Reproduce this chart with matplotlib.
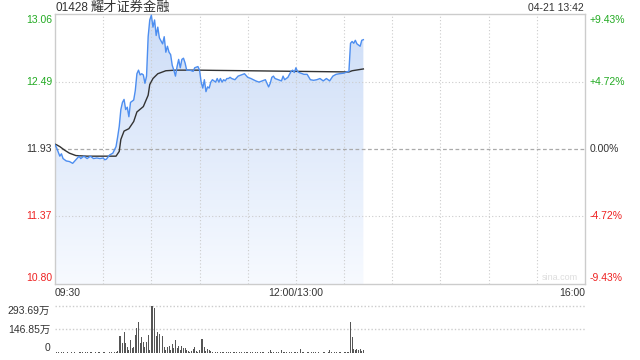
import numpy as np
import matplotlib
matplotlib.use("Agg")
import matplotlib.pyplot as plt
from matplotlib.patches import Polygon

plt.rcParams['font.family'] = ['Liberation Sans', 'Noto Sans CJK SC', 'DejaVu Sans']

# ---------------- data ----------------
title_code = "01428"
title_name = "耀才证券金融"
stamp = "04-21 13:42"
prev_close = 11.93
price_ticks = [13.06, 12.49, 11.93, 11.37, 10.80]
pct_ticks = ["+9.43%", "+4.72%", "0.00%", "-4.72%", "-9.43%"]
time_labels = ["09:30", "12:00/13:00", "16:00"]
time_label_pos = [0, 150, 330]
vol_tick_labels = ["293.69万", "146.85万", "0"]
vol_ticks = [293.69, 146.85, 0]

price_min = [0, 1, 3, 4, 5, 7, 9, 11, 12, 15, 16, 18, 20, 22, 24, 26, 28, 30, 31, 32,
             34, 36, 38, 39, 40, 41, 42, 43, 44, 45, 46, 47, 48, 49, 50, 51, 52, 53, 54, 55,
             56, 57, 58, 59, 60, 61, 62, 63, 64, 65, 67, 68, 69, 70, 71, 72, 73, 74, 75, 76,
             77, 78, 79, 80, 81, 82, 84, 86, 87, 89, 90, 91, 92, 93, 94, 95, 96, 97, 98, 100,
             101, 102, 103, 104, 105, 106, 107, 108, 109, 110, 112, 114, 116, 118, 120, 122,
             125, 127, 129, 131, 133, 134, 135, 136, 137, 139, 141, 142, 143, 144, 145, 147,
             148, 149, 150, 151, 152, 155, 157, 159, 161, 163, 165, 167, 169, 171, 173, 175,
             177, 180, 182, 183, 184, 185, 186, 187, 188, 189, 190, 191, 192]
price_val = [11.965, 11.94, 11.87, 11.89, 11.85, 11.83, 11.825, 11.81, 11.825, 11.87, 11.85,
             11.87, 11.85, 11.87, 11.85, 11.855, 11.85, 11.855, 11.84, 11.845,
             11.88, 11.895, 11.95, 12.03, 12.12, 12.26, 12.32, 12.345, 12.26, 12.28, 12.20,
             12.32, 12.33, 12.34, 12.42, 12.56, 12.59, 12.55, 12.56, 12.55,
             12.48, 12.54, 12.87, 13.01, 13.05, 12.95, 13.01, 12.88, 12.95, 12.86, 12.81,
             12.87, 12.74, 12.79, 12.74, 12.72, 12.63, 12.59, 12.54, 12.62,
             12.68, 12.61, 12.68, 12.69, 12.65, 12.59, 12.59, 12.58, 12.61, 12.62, 12.59,
             12.49, 12.44, 12.51, 12.41, 12.45, 12.44, 12.49, 12.51, 12.49,
             12.52, 12.49, 12.52, 12.49, 12.51, 12.50, 12.52, 12.52, 12.53, 12.52, 12.51,
             12.54, 12.55, 12.56, 12.53, 12.52,
             12.50, 12.49, 12.50, 12.51, 12.45, 12.48, 12.53, 12.54, 12.52, 12.51, 12.50,
             12.54, 12.51, 12.52, 12.53, 12.58,
             12.59, 12.57, 12.61, 12.58, 12.57, 12.555, 12.555, 12.51, 12.505, 12.51, 12.52,
             12.50, 12.52, 12.50, 12.54, 12.555,
             12.56, 12.565, 12.578, 12.578, 12.815, 12.83, 12.815, 12.84, 12.81, 12.80,
             12.79, 12.84, 12.845]

avg_min = [0, 1, 3, 6, 9, 13, 20, 38, 40, 41, 43, 46, 49, 51, 55, 58, 59, 61, 64, 69,
           75, 90, 100, 120, 150, 183, 185, 192]
avg_val = [11.97, 11.965, 11.95, 11.92, 11.895, 11.875, 11.87, 11.87, 11.91, 12.01, 12.08,
           12.10, 12.16, 12.24, 12.285, 12.38, 12.47, 12.52, 12.56, 12.585,
           12.59, 12.59, 12.588, 12.585, 12.58, 12.575, 12.585, 12.60]

# volume per minute (万股), minutes 0..192
volume = [8, 4, 5, 3, 4, 5, 3, 2, 4, 3, 6, 3, 4, 2, 3, 5, 4, 6, 3, 5,
          4, 3, 6, 4, 3, 5, 3, 4, 6, 3, 4, 5, 3, 2, 4, 6, 3, 5, 8, 12,
          104, 104, 60, 128, 60, 36, 20, 80, 30, 36, 114, 156, 192, 60, 102, 66, 36, 66, 114, 20,
          294, 288, 276, 104, 128, 120, 60, 108, 36, 20, 36, 42, 20, 56, 30, 80, 30, 42, 20, 46,
          30, 30, 16, 12, 8, 12, 26, 36, 12, 8, 16, 86, 86, 36, 12, 26, 20, 10, 8, 5,
          4, 6, 3, 5, 4, 7, 3, 5, 6, 4, 3, 5, 4, 6, 3, 4, 5, 3, 6, 4,
          5, 3, 4, 6, 3, 5, 4, 3, 6, 4, 5, 3, 4, 5, 20, 6, 4, 3, 5, 4,
          3, 16, 5, 4, 6, 3, 5, 4, 3, 6, 4, 5, 3, 24, 4, 6, 3, 5, 4, 3,
          6, 4, 5, 3, 4, 6, 3, 5, 4, 3, 4, 20, 5, 3, 4, 6, 3, 5, 4, 3,
          4, 5, 4, 5, 194, 100, 26, 20, 26, 16, 26, 10, 18]

# ---------------- style ----------------
W, H = 640, 360
fig = plt.figure(figsize=(6.4, 3.6), dpi=100)
fig.patch.set_facecolor('white')

ymin, ymax = 10.80, 13.06
ax = fig.add_axes([55 / W, 1 - 284 / H, 530 / W, 270 / H])
ax.set_xlim(0, 330)
ax.set_ylim(ymin, ymax)
ax.set_xticks([])
ax.set_yticks([])
for s in ax.spines.values():
    s.set_color('#cccccc')
    s.set_linewidth(1.0)

grid_c = '#cccccc'
for k in range(1, 11):
    ax.axvline(k * 30, color=grid_c, lw=0.8, ls=(0, (1, 2)), zorder=2)
for v in [12.49, 11.37]:
    ax.axhline(v, color=grid_c, lw=0.8, ls=(0, (1, 2)), zorder=2)
ax.axhline(prev_close, color='#aaaaaa', lw=0.9, ls=(0, (3, 2)), zorder=2)

# gradient fill under price line
xs = np.array(price_min, dtype=float)
ys = np.array(price_val, dtype=float)
poly_xy = np.column_stack([np.r_[xs, xs[-1], xs[0]], np.r_[ys, ymin, ymin]])
poly = Polygon(poly_xy, closed=True, facecolor='none', edgecolor='none')
ax.add_patch(poly)
grad = np.linspace(0, 1, 256).reshape(-1, 1)
top_c = np.array([205, 221, 247]) / 255.0
bot_c = np.array([247, 250, 255]) / 255.0
img = top_c[None, None, :] * (1 - grad[:, :, None]) + bot_c[None, None, :] * grad[:, :, None]
im = ax.imshow(img, extent=[0, 330, ymin, ymax], origin='upper', aspect='auto', zorder=1,
               interpolation='bilinear')
im.set_clip_path(poly)

ax.plot(price_min, price_val, color='#4d8ef0', lw=1.0, zorder=4)
ax.plot(avg_min, avg_val, color='#333333', lw=1.0, zorder=3)

# watermark
fig.text(578 / W, 1 - 277 / H, "sina.com", color='#dddddd', fontsize=6.5, ha='right', va='center')

# y labels
green = '#22aa22'
red = '#ee2222'
label_y = [20, 82, 149, 216, 278]
lcolors = [green, green, '#333333', red, red]
for v, ypx, c, p in zip(price_ticks, label_y, lcolors, pct_ticks):
    fig.text(52 / W, 1 - ypx / H, f"{v:.2f}", color=c, fontsize=7.5, ha='right', va='center')
    fig.text(590 / W, 1 - ypx / H, p, color=c, fontsize=7.5, ha='left', va='center')

# title / stamp
fig.text(55 / W, 1 - 8 / H, title_code, color='#333333', fontsize=8.5, ha='left', va='center')
fig.text(91 / W, 1 - 7.5 / H, title_name, color='#333333', fontsize=9.5, ha='left', va='center')
fig.text(584 / W, 1 - 8 / H, stamp, color='#333333', fontsize=7.5, ha='right', va='center')

# x labels
has = ['left', 'center', 'right']
for lab, pos, ha in zip(time_labels, time_label_pos, has):
    fig.text((55 + pos * 530 / 330) / W, 1 - 293 / H, lab, color='#333333', fontsize=7.5,
             ha=ha, va='center')

# volume axes
vax = fig.add_axes([55 / W, 1 - 353 / H, 530 / W, 47.5 / H])
vax.set_xlim(0, 330)
vax.set_ylim(0, 293.69)
vax.set_xticks([])
vax.set_yticks([])
for s in vax.spines.values():
    s.set_visible(False)
vax.axhline(293.69, color='#cccccc', lw=1.0, ls=(0, (1, 1.5)), zorder=1, clip_on=False)
vax.axhline(146.85, color='#cccccc', lw=1.0, ls=(0, (1, 1.5)), zorder=1)
vax.axhline(0, color='#dddddd', lw=0.6, zorder=1)
vax.bar(np.arange(len(volume)), volume, width=0.6, color='#555555', zorder=2)

vol_label_y = [310.5, 330, 348]
for lab, ypx in zip(vol_tick_labels, vol_label_y):
    fig.text(50 / W, 1 - ypx / H, lab, color='#333333', fontsize=7.5, ha='right', va='center')

fig.savefig('out.png', dpi=100, facecolor='white')
